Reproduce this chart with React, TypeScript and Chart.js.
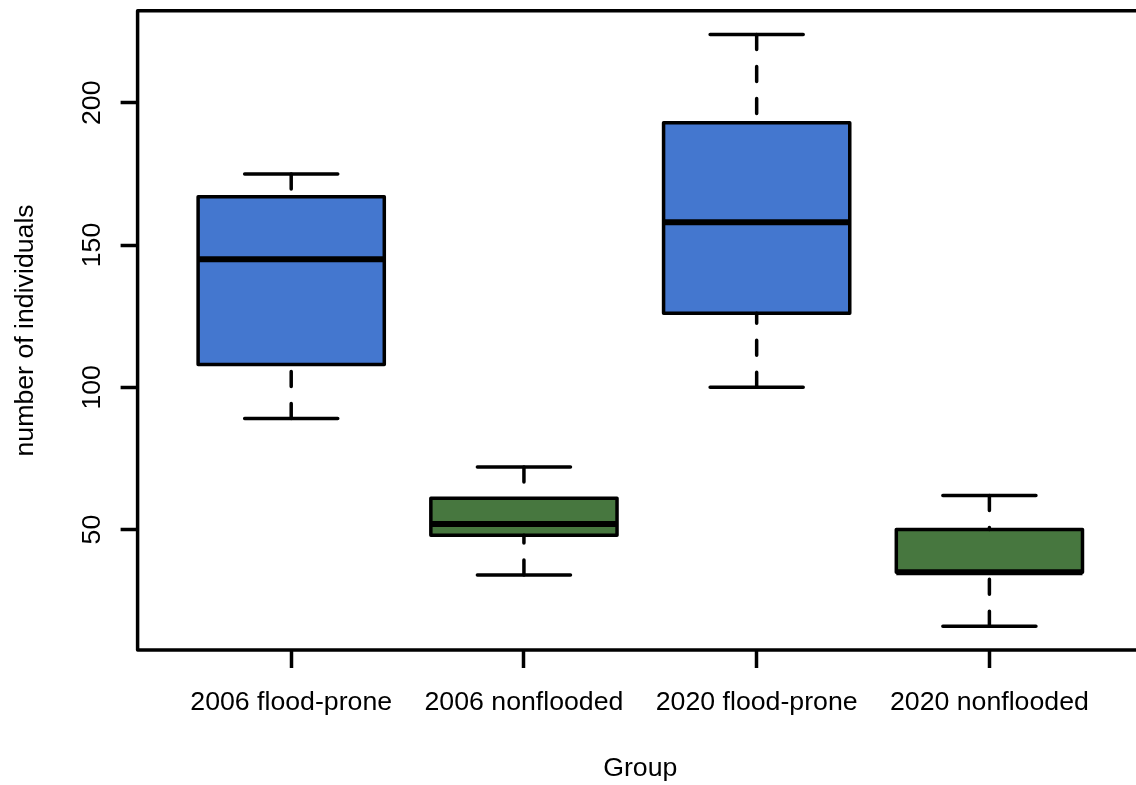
import React, { useEffect, useRef } from "react";
import { Chart, registerables } from "chart.js";

Chart.register(...registerables);

// ---- data ----
const categories = ["2006 flood-prone", "2006 nonflooded", "2020 flood-prone", "2020 nonflooded"];
const positions = [1, 2, 3, 4];
const whiskerLow = [89, 34, 100, 16];
const q1 = [108, 48, 126, 35];
const median = [145, 52, 158, 35];
const q3 = [167, 61, 193, 50];
const whiskerHigh = [175, 72, 224, 62];
const boxColors = ["#4477CF", "#47773F", "#4477CF", "#47773F"];
const yTicks = [50, 100, 150, 200];
const xTitle = "Group";
const yTitle = "number of individuals";

// ---- layout / style ----
const CANVAS_W = 1150;
const CANVAS_H = 785;
const PLOT_LEFT = 137.6;
const PLOT_TOP = 10.8;
const PLOT_BOTTOM = 650;
const PLOT_RIGHT = 1143;
const FONT_FAMILY = "'Liberation Sans', Arial, Helvetica, sans-serif";
const FONT_SIZE = 26.7;
const LW = 3.5;
const MED_LW = 6;

// R-style axis limits (4% extension)
const dataLo = Math.min(...whiskerLow);
const dataHi = Math.max(...whiskerHigh);
const yPad = (dataHi - dataLo) * 0.04;
const yMin = dataLo - yPad;
const yMax = dataHi + yPad;
const xLo = positions[0] - 0.5;
const xHi = positions[positions.length - 1] + 0.5;
const xPad = (xHi - xLo) * 0.04;
const xMin = xLo - xPad;
const xMax = xHi + xPad;

const boxPlugin = {
  id: "boxDetails",
  afterDatasetsDraw(chart: any) {
    const ctx = chart.ctx;
    const ys = chart.scales.y;
    const meta = chart.getDatasetMeta(0);
    ctx.save();
    ctx.strokeStyle = "#000";
    meta.data.forEach((bar: any, i: number) => {
      const { x, width } = bar.getProps(["x", "width"], true);
      const pLo = ys.getPixelForValue(whiskerLow[i]);
      const pQ1 = ys.getPixelForValue(q1[i]);
      const pMed = ys.getPixelForValue(median[i]);
      const pQ3 = ys.getPixelForValue(q3[i]);
      const pHi = ys.getPixelForValue(whiskerHigh[i]);
      // dashed whiskers, starting at whisker end
      ctx.lineWidth = LW;
      ctx.lineCap = "round";
      ctx.lineJoin = "round";
      ctx.setLineDash([15, 17]);
      ctx.beginPath();
      ctx.moveTo(x, pLo);
      ctx.lineTo(x, pQ1);
      ctx.stroke();
      ctx.beginPath();
      ctx.moveTo(x, pHi);
      ctx.lineTo(x, pQ3);
      ctx.stroke();
      ctx.setLineDash([]);
      // staples
      const sw = width / 4;
      ctx.beginPath();
      ctx.moveTo(x - sw, pLo);
      ctx.lineTo(x + sw, pLo);
      ctx.moveTo(x - sw, pHi);
      ctx.lineTo(x + sw, pHi);
      ctx.stroke();
      // box outline
      ctx.strokeRect(x - width / 2, pQ3, width, pQ1 - pQ3);
      // median
      ctx.lineWidth = MED_LW;
      ctx.lineCap = "butt";
      ctx.beginPath();
      ctx.moveTo(x - width / 2, pMed);
      ctx.lineTo(x + width / 2, pMed);
      ctx.stroke();
    });
    ctx.restore();
  },
  afterDraw(chart: any) {
    const ctx = chart.ctx;
    const area = chart.chartArea;
    const ys = chart.scales.y;
    ctx.save();
    // plot frame
    ctx.strokeStyle = "#000";
    ctx.lineWidth = LW;
    ctx.lineJoin = "round";
    ctx.strokeRect(area.left, area.top, area.right - area.left, area.bottom - area.top);
    // rotated y tick labels
    ctx.fillStyle = "#000";
    ctx.font = `${FONT_SIZE}px ${FONT_FAMILY}`;
    ctx.textAlign = "center";
    ctx.textBaseline = "alphabetic";
    ys.ticks.forEach((t: any) => {
      const py = ys.getPixelForValue(t.value);
      ctx.save();
      ctx.translate(100, py);
      ctx.rotate(-Math.PI / 2);
      ctx.fillText(String(t.value), 0, 0);
      ctx.restore();
    });
    ctx.restore();
  },
};

export default function App() {
  const ref = useRef<HTMLCanvasElement>(null);
  useEffect(() => {
    const font = { family: FONT_FAMILY, size: FONT_SIZE };
    const chart = new Chart(ref.current as HTMLCanvasElement, {
      type: "bar",
      data: {
        datasets: [
          {
            data: positions.map((p, i) => ({ x: p, y: [q1[i], q3[i]] })) as any,
            backgroundColor: boxColors,
            borderWidth: 0,
            barPercentage: 0.8,
            categoryPercentage: 1,
          },
        ],
      },
      options: {
        responsive: false,
        animation: false,
        devicePixelRatio: 1,
        layout: { padding: { left: 0, top: PLOT_TOP, right: CANVAS_W - PLOT_RIGHT, bottom: 0 } },
        plugins: {
          legend: { display: false },
          tooltip: { enabled: false },
          title: { display: false },
        },
        scales: {
          x: {
            type: "linear",
            min: xMin,
            max: xMax,
            offset: false,
            afterBuildTicks: (s: any) => {
              s.ticks = positions.map((v) => ({ value: v }));
            },
            afterFit: (s: any) => {
              s.height = CANVAS_H - PLOT_BOTTOM;
            },
            ticks: {
              autoSkip: false,
              maxRotation: 0,
              minRotation: 0,
              padding: 18.5,
              color: "#000",
              font,
              callback: (v: any) => {
                const idx = positions.indexOf(Number(v));
                return idx >= 0 ? categories[idx] : "";
              },
            },
            grid: {
              display: true,
              offset: false,
              drawOnChartArea: false,
              drawTicks: true,
              tickLength: 18,
              tickWidth: LW,
              tickColor: "#000",
            },
            border: { display: false },
            title: {
              display: true,
              text: xTitle,
              color: "#000",
              font,
              padding: { top: 0, bottom: 0.5 },
            },
          },
          y: {
            type: "linear",
            min: yMin,
            max: yMax,
            afterBuildTicks: (s: any) => {
              s.ticks = yTicks.map((v) => ({ value: v }));
            },
            afterFit: (s: any) => {
              s.width = PLOT_LEFT;
            },
            ticks: { display: false },
            grid: {
              display: true,
              offset: false,
              drawOnChartArea: false,
              drawTicks: true,
              tickLength: 17,
              tickWidth: LW,
              tickColor: "#000",
            },
            border: { display: false },
            title: {
              display: true,
              text: yTitle,
              color: "#000",
              font,
              padding: { top: 10, bottom: 0 },
            },
          },
        },
      } as any,
      plugins: [boxPlugin],
    });
    return () => chart.destroy();
  }, []);
  return (
    <div
      style={{
        position: "absolute",
        left: 0,
        top: 0,
        width: 1136,
        height: 785,
        overflow: "hidden",
        background: "#fff",
      }}
    >
      <canvas
        ref={ref}
        width={CANVAS_W}
        height={CANVAS_H}
        style={{ display: "block", width: CANVAS_W, height: CANVAS_H }}
      />
    </div>
  );
}
